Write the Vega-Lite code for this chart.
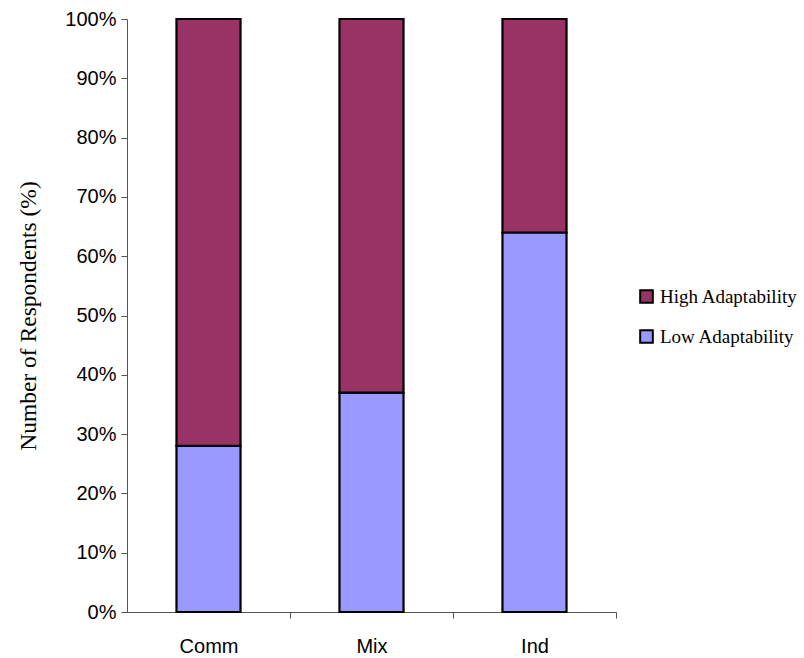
{
  "$schema": "https://vega.github.io/schema/vega-lite/v6.json",
  "autosize": "none",
  "width": 489,
  "height": 593,
  "padding": {"left": 127, "top": 19, "right": 188, "bottom": 46},
  "background": "white",
  "config": {"view": {"stroke": null}},
  "data": {
    "values": [
      {"group": "Comm", "adapt": "Low Adaptability", "pct": 28},
      {"group": "Comm", "adapt": "High Adaptability", "pct": 72},
      {"group": "Mix", "adapt": "Low Adaptability", "pct": 37},
      {"group": "Mix", "adapt": "High Adaptability", "pct": 63},
      {"group": "Ind", "adapt": "Low Adaptability", "pct": 64},
      {"group": "Ind", "adapt": "High Adaptability", "pct": 36}
    ]
  },
  "mark": {"type": "bar", "stroke": "black", "strokeWidth": 2.2},
  "encoding": {
    "x": {
      "field": "group",
      "type": "nominal",
      "sort": ["Comm", "Mix", "Ind"],
      "scale": {"paddingInner": 0.607, "paddingOuter": 0.3035},
      "axis": {
        "title": null,
        "labelAngle": 0,
        "tickOffset": 81.5,
        "labelOffset": -81.5,
        "labelFont": "Liberation Sans",
        "labelFontSize": 20,
        "labelColor": "black",
        "labelPadding": 18,
        "tickColor": "#555",
        "tickSize": 6,
        "domainColor": "#555",
        "grid": false
      }
    },
    "y": {
      "field": "pct",
      "type": "quantitative",
      "stack": "normalize",
      "scale": {"domain": [0, 1]},
      "axis": {
        "title": "Number of Respondents (%)",
        "titleFont": "Liberation Serif",
        "titleFontSize": 23.5,
        "titleFontWeight": "normal",
        "titleColor": "black",
        "titlePadding": 24,
        "format": ".0%",
        "values": [0, 0.1, 0.2, 0.3, 0.4, 0.5, 0.6, 0.7, 0.8, 0.9, 1],
        "labelOverlap": false,
        "labelFont": "Liberation Sans",
        "labelFontSize": 20,
        "labelColor": "black",
        "labelPadding": 5,
        "tickColor": "#555",
        "tickSize": 6,
        "domainColor": "#555",
        "grid": false
      }
    },
    "color": {
      "field": "adapt",
      "type": "nominal",
      "scale": {"domain": ["High Adaptability", "Low Adaptability"], "range": ["#993366", "#9999FF"]},
      "legend": {
        "title": null,
        "orient": "none",
        "legendX": 510,
        "legendY": 268,
        "symbolType": "square",
        "symbolSize": 160,
        "symbolStrokeColor": "black",
        "symbolStrokeWidth": 2,
        "labelFont": "Liberation Serif",
        "labelFontSize": 19,
        "labelColor": "black",
        "labelOffset": 4,
        "rowPadding": 19
      }
    },
    "order": {"field": "adapt", "sort": "descending"}
  }
}
